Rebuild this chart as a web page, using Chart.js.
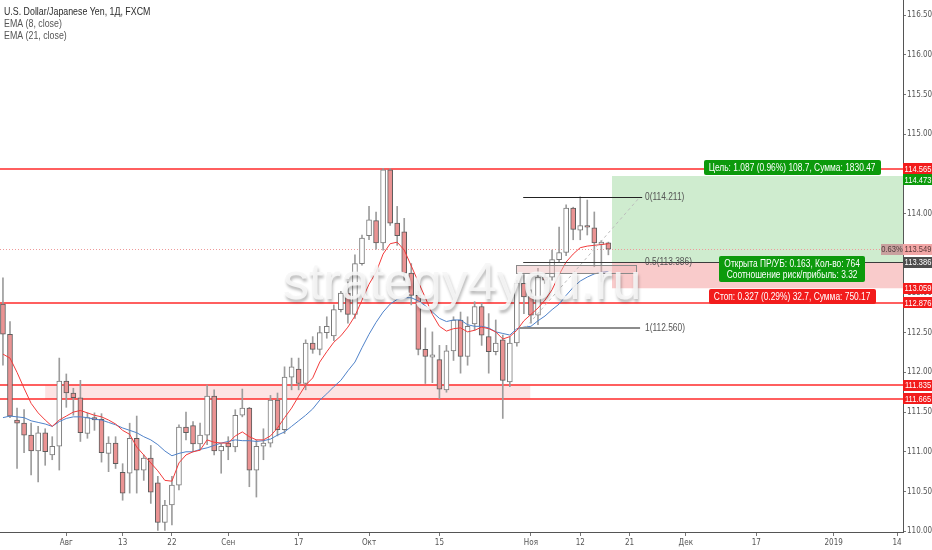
<!DOCTYPE html>
<html>
<head>
<meta charset="utf-8">
<script src="https://cdn.jsdelivr.net/npm/chart.js@4.4.1/dist/chart.umd.min.js"></script>
<style>
  html, body { margin: 0; padding: 0; background: #fff; }
  #wrap { width: 932px; height: 550px; }
</style>
</head>
<body>
<div id="wrap"><canvas id="usdjpyChart" width="932" height="550"></canvas></div>
<script>
// USD/JPY daily, FXCM. bar 0 = 1 Aug 2018, first candle is bar -9 (19 Jul)
const firstBar = -9;

const opens = [
  112.86, 112.48, 111.40, 111.36, 111.21, 111.01, 111.24, 110.96, 111.07,
  111.89, 111.74, 111.68, 111.23, 111.43, 111.41, 110.98, 111.11, 110.74, 110.73,
  111.17, 110.77, 110.92, 110.61, 110.11, 110.33, 110.58, 111.31, 111.33, 111.10,
  111.21, 111.70, 111.01, 111.11, 111.06, 111.46, 111.55, 110.77, 111.07, 111.11,
  111.65, 111.28, 111.94, 112.04, 111.86, 112.37, 112.29, 112.50, 112.46, 112.79,
  113.00, 112.73, 113.37, 113.72, 113.91, 113.63, 114.55, 113.88, 113.77, 113.25,
  112.97, 112.29, 112.19, 112.16, 111.78, 112.27, 112.66, 112.20, 112.61, 112.83,
  112.45, 112.26, 112.41, 111.88, 112.37, 113.12, 112.96, 112.72, 113.20, 113.20,
  113.42, 113.51, 114.07, 113.79, 113.85, 113.82, 113.61, 113.63
];
const highs = [
  113.19, 112.64, 111.55, 111.53, 111.36, 111.32, 111.29, 111.19, 112.18,
  111.98, 111.80, 111.90, 111.49, 111.49, 111.48, 111.19, 111.19, 110.85, 111.36,
  111.45, 110.96, 111.08, 110.69, 110.39, 110.69, 111.34, 111.50, 111.38, 111.36,
  111.84, 111.78, 111.10, 111.19, 111.53, 111.79, 111.56, 111.15, 111.29, 111.71,
  111.74, 112.07, 112.18, 112.18, 112.41, 112.45, 112.58, 112.70, 112.85, 113.02,
  113.14, 113.48, 113.73, 114.09, 114.02, 114.57, 114.565, 114.09, 113.94, 113.37,
  113.02, 112.56, 112.51, 112.34, 112.34, 112.70, 112.76, 112.70, 112.89, 112.87,
  112.74, 112.66, 112.47, 112.45, 113.16, 113.23, 113.04, 113.31, 113.23, 113.54,
  113.83, 114.11, 114.08, 114.21, 114.17, 114.02, 113.66, 113.64
];
const lows = [
  112.09, 111.43, 110.79, 110.99, 110.71, 110.62, 110.83, 110.90, 110.77,
  111.56, 111.46, 111.13, 111.17, 111.27, 110.87, 110.75, 110.79, 110.39, 110.48,
  110.48, 110.64, 110.35, 110.01, 110.01, 110.08, 110.52, 111.15, 111.00, 111.02,
  111.09, 110.96, 110.73, 110.90, 111.00, 111.44, 110.56, 110.43, 110.90, 111.06,
  111.20, 111.23, 111.78, 111.78, 111.78, 112.24, 112.22, 112.43, 112.40, 112.76,
  112.62, 112.68, 113.35, 113.67, 113.55, 113.54, 113.85, 113.60, 113.16, 112.85,
  112.22, 111.86, 111.87, 111.67, 111.75, 112.15, 111.99, 112.09, 112.53, 112.34,
  111.99, 112.22, 111.42, 111.82, 112.33, 112.74, 112.62, 112.60, 113.12, 113.16,
  113.39, 113.47, 113.67, 113.67, 113.73, 113.33, 113.14, 113.48
];
const closes = [
  112.48, 111.45, 111.36, 111.21, 111.01, 111.24, 111.00, 111.07, 111.89,
  111.74, 111.68, 111.24, 111.43, 111.40, 110.99, 111.11, 110.85, 110.48, 111.17,
  110.77, 110.92, 110.49, 110.11, 110.33, 110.58, 111.31, 111.24, 111.10, 111.21,
  111.70, 111.01, 111.07, 111.06, 111.46, 111.55, 110.77, 111.07, 111.11, 111.65,
  111.28, 111.94, 112.07, 111.86, 112.37, 112.29, 112.50, 112.58, 112.79, 113.00,
  112.73, 113.37, 113.69, 113.92, 113.63, 114.55, 113.88, 113.72, 113.25, 112.97,
  112.29, 112.20, 112.22, 111.79, 112.27, 112.66, 112.20, 112.58, 112.83, 112.47,
  112.26, 112.37, 111.90, 112.37, 113.12, 112.95, 112.72, 113.20, 113.16, 113.42,
  113.51, 114.07, 113.80, 113.85, 113.83, 113.63, 113.64, 113.55
];
const ema8 = [
  112.23, 112.18, 112.00, 111.80, 111.61, 111.49, 111.40, 111.32, 111.40,
  111.45, 111.50, 111.52, 111.49, 111.46, 111.44, 111.40, 111.35, 111.27, 111.22,
  111.06, 110.96, 110.86, 110.76, 110.64, 110.63, 110.86, 110.96, 111.00, 111.02,
  111.15, 111.12, 111.11, 111.11, 111.20, 111.25, 111.19, 111.15, 111.15, 111.20,
  111.30, 111.43, 111.55, 111.70, 111.84, 111.93, 112.13, 112.26, 112.38, 112.46,
  112.57, 112.71, 112.91, 113.11, 113.26, 113.49, 113.62, 113.64, 113.54, 113.34,
  113.14, 112.94, 112.73, 112.58, 112.52, 112.55, 112.56, 112.51, 112.53, 112.57,
  112.55, 112.51, 112.42, 112.45, 112.53, 112.65, 112.73, 112.81, 112.91, 113.04,
  113.23, 113.39, 113.49, 113.57, 113.59, 113.60, 113.61, 113.62
];
const ema21 = [
  111.43, 111.45, 111.44, 111.43, 111.39, 111.37, 111.35, 111.32, 111.38,
  111.42, 111.44, 111.44, 111.43, 111.41, 111.40, 111.37, 111.34, 111.30, 111.27,
  111.24, 111.19, 111.15, 111.09, 111.01, 110.95, 110.98, 111.00, 111.00, 111.03,
  111.05, 111.08, 111.11, 111.13, 111.15, 111.14, 111.14, 111.13, 111.14, 111.16,
  111.21, 111.25, 111.32, 111.39, 111.46, 111.54, 111.65, 111.73, 111.82, 111.90,
  112.02, 112.13, 112.31, 112.48, 112.63, 112.76, 112.86, 112.92, 112.94, 112.94,
  112.90, 112.84, 112.76, 112.68, 112.64, 112.66, 112.66, 112.60, 112.58, 112.58,
  112.56, 112.51, 112.49, 112.47, 112.55, 112.57, 112.58, 112.65, 112.71, 112.79,
  112.86, 112.97, 113.07, 113.15, 113.20, 113.24, 113.26, 113.27
];

const tickBars = [0, 8, 15, 23, 33, 43, 53, 66, 73, 80, 88, 98, 109, 118];
const tickLabels = ['Авг', '13', '22', 'Сен', '17', 'Окт', '15', 'Ноя', '12', '21', 'Дек', '17', '2019', '14'];
const priceTicks = [110, 110.5, 111, 111.5, 112, 112.5, 113, 113.5, 114, 114.5, 115, 115.5, 116, 116.5];

// drawings
const levelLines = [114.565, 112.876, 111.835, 111.665];
const supportZone = [111.665, 111.835];
const fibLevels = [114.211, 113.386, 112.560];
const fibNames = ['0', '0.5', '1'];
const boxZone = [113.247, 113.351];
const positionPrices = [114.473, 113.386, 113.059]; // target, entry, stop
const lastPrice = 113.549;
const lastChange = '0.63%';
const axisTagPrices = [114.565, 114.473, 113.549, 113.386, 113.059, 112.876, 111.835, 111.665];
const axisTagKinds = ['red', 'green', 'last', 'entry', 'red', 'red', 'red', 'red'];

const targetText = 'Цель: 1.087 (0.96%) 108.7, Сумма: 1830.47';
const entryTexts = ['Открыта ПР/УБ: 0.163, Кол-во: 764', 'Соотношение риск/прибыль: 3.32'];
const stopText = 'Стоп: 0.327 (0.29%) 32.7, Сумма: 750.17';
const titleLines = ['U.S. Dollar/Japanese Yen, 1Д, FXCM', 'EMA (8, close)', 'EMA (21, close)'];

const UI = "'Liberation Sans Narrow', 'DejaVu Sans Condensed', 'Liberation Sans', sans-serif";
const TXT = "'Liberation Sans', Arial, sans-serif";
const NARROW = 0.84; // tradingview text is condensed

const crisp = v => Math.round(v) + 0.5;

function hline(ctx, x0, x1, yPix) {
  ctx.beginPath();
  ctx.moveTo(x0, crisp(yPix));
  ctx.lineTo(x1, crisp(yPix));
  ctx.stroke();
}

// condensed text drawn through a horizontal scale
function narrowText(ctx, text, x, y, align) {
  const w = ctx.measureText(text).width * NARROW;
  let left = x;
  if (align === 'center') left = x - w / 2;
  if (align === 'right') left = x - w;
  ctx.save();
  ctx.translate(left, y);
  ctx.scale(NARROW, 1);
  ctx.textAlign = 'left';
  ctx.fillText(text, 0, 0);
  ctx.restore();
  return w;
}

function labelBox(ctx, lines, cx, top, bg, fg, size) {
  ctx.font = size + 'px ' + TXT;
  const w = Math.max(...lines.map(t => ctx.measureText(t).width)) * NARROW + 10;
  const lh = size + 1;
  const h = lines.length * lh + 4;
  ctx.fillStyle = bg;
  ctx.beginPath();
  ctx.roundRect(Math.round(cx - w / 2), Math.round(top), Math.round(w), h, 2);
  ctx.fill();
  ctx.fillStyle = fg;
  ctx.textBaseline = 'middle';
  lines.forEach((t, k) => narrowText(ctx, t, cx, top + 2.5 + lh * k + lh / 2, 'center'));
}

const overlay = {
  id: 'overlay',
  beforeDatasetsDraw(chart) {
    const { ctx, chartArea: a, scales: { x, y } } = chart;
    const px = b => x.getPixelForValue(b);
    const py = p => y.getPixelForValue(p);
    ctx.save();
    ctx.beginPath();
    ctx.rect(a.left, a.top, a.width, a.height);
    ctx.clip();

    // support zone
    ctx.fillStyle = '#fde3e3';
    ctx.fillRect(px(-3), py(supportZone[1]), px(65.9) - px(-3), py(supportZone[0]) - py(supportZone[1]));

    // long position tool
    const [target, entry, stop] = positionPrices;
    const boxL = Math.round(px(77.5));
    ctx.fillStyle = '#cfeccf';
    ctx.fillRect(boxL, py(target), a.right - boxL, py(entry) - py(target));
    ctx.fillStyle = '#f9cbcb';
    ctx.fillRect(boxL, py(entry), a.right - boxL, py(stop) - py(entry));

    // last price
    ctx.lineWidth = 1;
    ctx.strokeStyle = '#ee9a9a';
    ctx.setLineDash([1, 2]);
    hline(ctx, a.left, a.right, py(lastPrice));
    ctx.setLineDash([]);

    // horizontal levels
    ctx.strokeStyle = '#ff2a2a';
    ctx.lineWidth = 1.5;
    levelLines.forEach(p => {
      const yy = Math.round(py(p));
      ctx.beginPath();
      ctx.moveTo(a.left, yy);
      ctx.lineTo(a.right, yy);
      ctx.stroke();
    });
    ctx.restore();
  },
  afterDatasetsDraw(chart) {
    const { ctx, chartArea: a, scales: { x, y } } = chart;
    const px = b => x.getPixelForValue(b);
    const py = p => y.getPixelForValue(p);
    ctx.save();
    ctx.beginPath();
    ctx.rect(a.left, a.top, a.width, a.height);
    ctx.clip();

    // small range box
    ctx.fillStyle = 'rgba(238, 185, 185, 0.45)';
    ctx.strokeStyle = '#8a8a8a';
    ctx.lineWidth = 1;
    const bx0 = Math.round(px(63.9)) + 0.5, bx1 = Math.round(px(80.9)) + 0.5;
    const by0 = crisp(py(boxZone[1])), by1 = crisp(py(boxZone[0]));
    ctx.fillRect(bx0, by0, bx1 - bx0, by1 - by0);
    ctx.strokeRect(bx0, by0, bx1 - bx0, by1 - by0);

    // fib retracement
    ctx.strokeStyle = '#bdbdbd';
    ctx.setLineDash([3, 3]);
    ctx.beginPath();
    ctx.moveTo(px(65.2), py(fibLevels[2]));
    ctx.lineTo(px(81.5), py(fibLevels[0]));
    ctx.stroke();
    ctx.setLineDash([]);

    ctx.strokeStyle = '#222';
    hline(ctx, px(64.9), px(81.8), py(fibLevels[0]));
    ctx.strokeStyle = '#3c3c3c';
    hline(ctx, px(64.9), a.right, py(fibLevels[1]));
    ctx.strokeStyle = '#8c8c8c';
    ctx.lineWidth = 2;
    ctx.beginPath();
    ctx.moveTo(px(64.4), Math.round(py(fibLevels[2])));
    ctx.lineTo(px(81.5), Math.round(py(fibLevels[2])));
    ctx.stroke();
    ctx.lineWidth = 1;

    ctx.font = '10px ' + TXT;
    ctx.fillStyle = '#555';
    ctx.textBaseline = 'middle';
    fibLevels.forEach((p, k) => {
      narrowText(ctx, fibNames[k] + '(' + p.toFixed(3) + ')', px(82.2), py(p), 'left');
    });

    // watermark
    ctx.font = '52px ' + TXT;
    ctx.textAlign = 'left';
    ctx.textBaseline = 'alphabetic';
    ctx.shadowColor = 'rgba(0, 0, 0, 0.3)';
    ctx.shadowBlur = 3;
    ctx.shadowOffsetX = 1;
    ctx.shadowOffsetY = 3;
    ctx.fillStyle = 'rgba(246, 246, 246, 0.9)';
    ctx.fillText('strategy4you.ru', 283, 299);
    ctx.shadowColor = 'transparent';

    // position labels
    const [target, entry, stop] = positionPrices;
    const cx = px(103.1);
    labelBox(ctx, [targetText], cx, py(target) - 16, '#0c9a0c', '#fff', 10);
    labelBox(ctx, entryTexts, cx, py(entry) - 6, '#0c9a0c', '#fff', 10);
    labelBox(ctx, [stopText], cx, py(stop) + 1, '#f21c1c', '#fff', 10);
    ctx.restore();
  },
  afterDraw(chart) {
    const { ctx, chartArea: a, scales: { y } } = chart;
    ctx.save();
    // price tags on the axis
    ctx.font = '9px ' + TXT;
    ctx.textBaseline = 'middle';
    const tagStyle = {
      red: ['#f21c1c', '#fff'],
      green: ['#0c9a0c', '#fff'],
      last: ['#f2a6a6', '#5b3a3a'],
      entry: ['#4e4e4e', '#fff']
    };
    let prev = -Infinity;
    axisTagPrices.forEach((p, k) => {
      let cy = y.getPixelForValue(p);
      if (cy < prev + 11) cy = prev + 11;
      prev = cy;
      const [bg, fg] = tagStyle[axisTagKinds[k]];
      ctx.fillStyle = bg;
      ctx.fillRect(a.right, Math.round(cy - 5.5), 29, 11);
      ctx.fillStyle = fg;
      narrowText(ctx, p.toFixed(3), a.right + 15, Math.round(cy) + 0.5, 'center');
      if (axisTagKinds[k] === 'last') {
        ctx.fillStyle = '#c9a19f';
        ctx.fillRect(a.right - 22, Math.round(cy - 5.5), 22, 11);
        ctx.fillStyle = '#4f3c3c';
        narrowText(ctx, lastChange, a.right - 11, Math.round(cy) + 0.5, 'center');
      }
    });

    // title block
    ctx.font = '10.5px ' + TXT;
    titleLines.forEach((t, k) => {
      ctx.fillStyle = k === 0 ? '#2b2b2b' : '#555';
      narrowText(ctx, t, 4, 12 + k * 12, 'left');
    });
    ctx.restore();
  }
};

const candleX = opens.map((o, k) => firstBar + k);
const bear = opens.map((o, k) => closes[k] < o);

new Chart(document.getElementById('usdjpyChart'), {
  type: 'bar',
  data: {
    datasets: [
      {
        type: 'line',
        label: 'EMA (8, close)',
        data: ema8.map((v, k) => ({ x: candleX[k], y: v })),
        borderColor: '#f23b3b',
        borderWidth: 1,
        pointRadius: 0,
        tension: 0,
        order: 1
      },
      {
        type: 'line',
        label: 'EMA (21, close)',
        data: ema21.map((v, k) => ({ x: candleX[k], y: v })),
        borderColor: '#4f82c9',
        borderWidth: 1,
        pointRadius: 0,
        tension: 0,
        order: 1
      },
      {
        label: 'body',
        data: opens.map((o, k) => ({ x: candleX[k], y: [o, closes[k]] })),
        backgroundColor: bear.map(b => b ? '#ea9393' : '#ffffff'),
        borderColor: bear.map(b => b ? '#5c5c5c' : '#7a7a7a'),
        borderWidth: 1,
        borderSkipped: false,
        barThickness: 5,
        grouped: false,
        order: 2
      },
      {
        label: 'wick',
        data: lows.map((l, k) => ({ x: candleX[k], y: [l, highs[k]] })),
        backgroundColor: '#9c9c9c',
        barThickness: 1,
        grouped: false,
        order: 3
      }
    ]
  },
  options: {
    responsive: false,
    animation: false,
    events: [],
    layout: { padding: 0 },
    plugins: {
      legend: { display: false },
      tooltip: { enabled: false }
    },
    scales: {
      x: {
        type: 'linear',
        min: -9.42,
        max: 118.85,
        offset: false,
        grid: { display: true, drawOnChartArea: false, offset: false, tickLength: 4, color: '#777' },
        border: { display: true, color: '#555' },
        ticks: {
          autoSkip: false,
          maxRotation: 0,
          padding: 2,
          color: '#555',
          font: { family: UI, size: 8 },
          callback: (v, i) => tickLabels[i]
        },
        afterBuildTicks: s => { s.ticks = tickBars.map(v => ({ value: v })); },
        afterFit: s => { s.height = 18; s.paddingLeft = 0; s.paddingRight = 0; }
      },
      y: {
        position: 'right',
        min: 109.99,
        max: 116.689,
        grid: { display: true, drawOnChartArea: false, tickLength: 3, color: '#777' },
        border: { display: true, color: '#555' },
        ticks: {
          autoSkip: false,
          padding: 1,
          color: '#555',
          font: { family: UI, size: 8 },
          callback: v => v.toFixed(3)
        },
        afterBuildTicks: s => { s.ticks = priceTicks.map(v => ({ value: v })); },
        afterFit: s => { s.width = 29; s.paddingTop = 0; s.paddingBottom = 0; }
      }
    }
  },
  plugins: [overlay]
});
</script>
</body>
</html>
